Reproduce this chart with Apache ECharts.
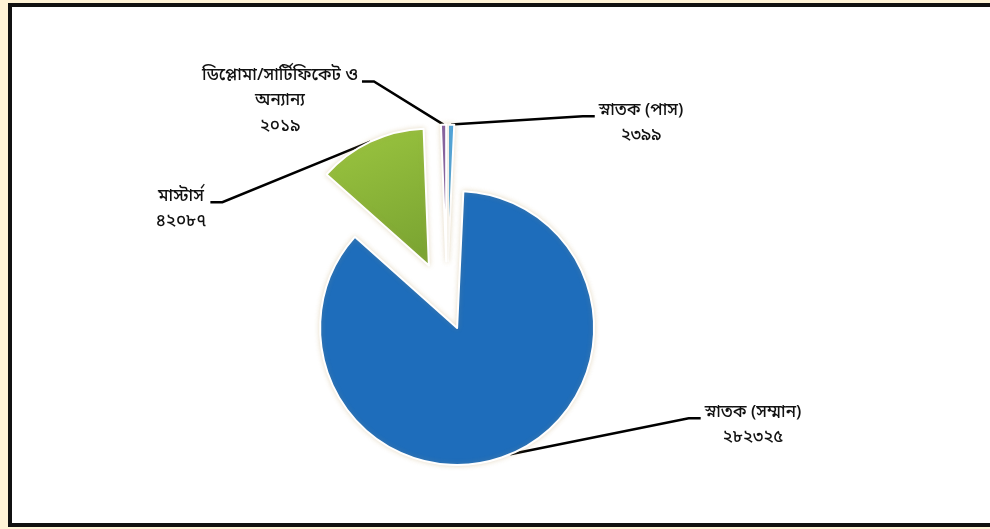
<!DOCTYPE html>
<html>
<head>
<meta charset="utf-8">
<script src="https://cdn.jsdelivr.net/npm/echarts@6/dist/echarts.min.js"></script>
<style>
  html, body { margin: 0; padding: 0; width: 990px; height: 529px; overflow: hidden; background: #fff3d6; }
  #chart { position: absolute; left: 0; top: 0; width: 990px; height: 529px; }
</style>
</head>
<body>
<div id="chart"></div>
<script>
// Students by level of study
const categories = ['স্নাতক (পাস)', 'স্নাতক (সম্মান)', 'মাস্টার্স', 'ডিপ্লোমা/সার্টিফিকেট ও\nঅন্যান্য'];
const students = [2399, 282325, 42087, 2019];

// Slice styling and layout
const sliceColors = ['#43a4e6', '#1e6dbb', null, '#7f5ba6'];
const explodeRatio = [0.31, 0.19, 0.31, 0.31];
const pieCenter = [447, 304];
const pieRadius = 137;
const labelCenters = [[641, 124], [753, 426], [181, 210], [280, 102]];
const labelSides = ['left', 'left', 'right', 'right'];
const LINE_H = 25.5;

const bnDigits = '০১২৩৪৫৬৭৮৯';
const toBn = v => String(v).replace(/\d/g, d => bnDigits[d]);

const total = students.reduce((a, b) => a + b, 0);
let cum = 0;
const midAngles = students.map(v => { const m = (cum + v / 2) / total * 2 * Math.PI; cum += v; return m; });

const greenFill = new echarts.graphic.LinearGradient(0, 0, 0.6, 1, [
  { offset: 0, color: '#9cc640' },
  { offset: 1, color: '#7ba532' }
]);

const hiddenItem = { color: 'rgba(0,0,0,0)', borderWidth: 0, shadowBlur: 0 };

function sliceStyle(i) {
  return {
    color: i === 2 ? greenFill : sliceColors[i],
    borderColor: '#ffffff',
    borderWidth: 2,
    shadowBlur: 5,
    shadowColor: 'rgba(190,160,100,0.3)'
  };
}

const series = categories.map((name, i) => {
  const e = explodeRatio[i] * pieRadius;
  const cx = pieCenter[0] + e * Math.sin(midAngles[i]);
  const cy = pieCenter[1] - e * Math.cos(midAngles[i]);
  return {
    type: 'pie',
    silent: true,
    animation: false,
    startAngle: 90,
    clockwise: true,
    avoidLabelOverlap: false,
    radius: pieRadius,
    center: [cx, cy],
    label: {
      position: 'outside',
      formatter: p => p.name + '\n' + toBn(p.value),
      fontFamily: "'Noto Sans Bengali', 'Noto Serif Bengali', 'Lohit Bengali', 'Noto Sans', sans-serif",
      fontSize: 17,
      fontWeight: 500,
      lineHeight: LINE_H,
      color: '#111',
      align: 'center'
    },
    labelLine: { show: true, length: 10, length2: 10, lineStyle: { color: '#000', width: 2.5 } },
    labelLayout: function (p) {
      if (p.dataIndex !== i) return {};
      const w = p.labelRect.width, h = p.labelRect.height;
      const lx = labelCenters[i][0], ly = labelCenters[i][1];
      const ay = ly - h / 2 + LINE_H / 2 + 5;
      const tx = labelSides[i] === 'left' ? lx - w / 2 - 4 : lx + w / 2 + 4;
      const bx = labelSides[i] === 'left' ? tx - 12 : tx + 12;
      const start = (p.labelLinePoints && p.labelLinePoints[0]) ||
        [cx + pieRadius * Math.sin(midAngles[i]), cy - pieRadius * Math.cos(midAngles[i])];
      return {
        x: lx, y: ly, align: 'center', verticalAlign: 'middle',
        labelLinePoints: [start, [bx, ay], [tx, ay]]
      };
    },
    data: students.map((v, j) => ({
      name: categories[j],
      value: v,
      itemStyle: j === i ? sliceStyle(i) : hiddenItem,
      label: { show: j === i },
      labelLine: { show: j === i }
    }))
  };
});

const chart = echarts.init(document.getElementById('chart'), null, { renderer: 'canvas' });
chart.setOption({
  backgroundColor: 'transparent',
  animation: false,
  graphic: [{
    type: 'rect',
    z: -10,
    silent: true,
    shape: { x: 10, y: 5, width: 1000, height: 520 },
    style: { fill: '#ffffff', stroke: '#111111', lineWidth: 4 }
  }],
  series: series
});
</script>
</body>
</html>
